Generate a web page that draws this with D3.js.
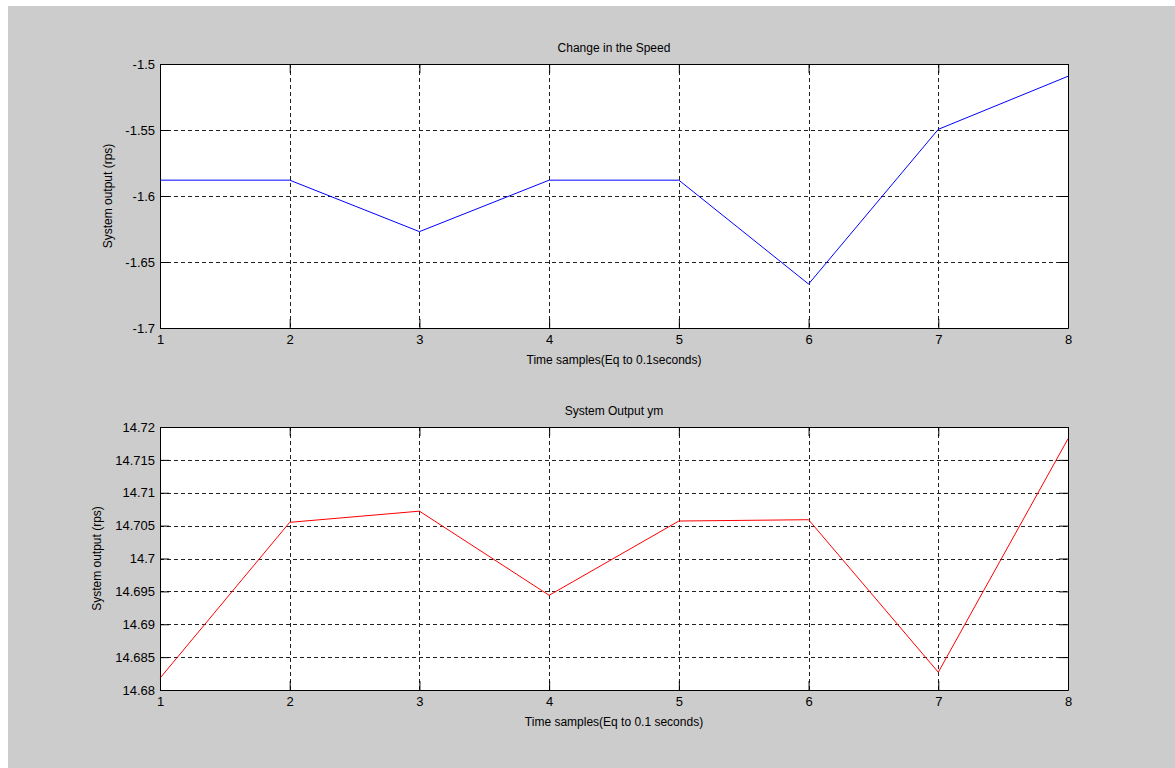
<!DOCTYPE html>
<html><head><meta charset="utf-8">
<script src="https://cdn.jsdelivr.net/npm/d3@7"></script>
<style>
html,body{margin:0;padding:0;background:#fff;}
svg{display:block;}
text{font-family:"Liberation Sans",Arial,Helvetica,sans-serif;fill:#000;}
</style></head>
<body>
<script>
// Data
const samples = [1, 2, 3, 4, 5, 6, 7, 8];
const speedChange = [-1.588, -1.588, -1.627, -1.588, -1.588, -1.6667, -1.5495, -1.5093];
const systemOutput = [14.6818, 14.7055, 14.7072, 14.6944, 14.7057, 14.7059, 14.6827, 14.7182];
const xTicks = [1, 2, 3, 4, 5, 6, 7, 8];
const yTicksTop = [-1.7, -1.65, -1.6, -1.55, -1.5];
const yTicksBottom = [14.68, 14.685, 14.69, 14.695, 14.7, 14.705, 14.71, 14.715, 14.72];
const titles = ["Change in the Speed", "System Output ym"];
const xLabels = ["Time samples(Eq to 0.1seconds)", "Time samples(Eq to 0.1 seconds)"];
const yLabel = "System output (rps)";

const W = 1175, H = 768;
const svg = d3.select("body").append("svg").attr("width", W).attr("height", H);
svg.append("rect").attr("x", 8).attr("y", 6).attr("width", W - 8).attr("height", H - 6).attr("fill", "#cccccc");

const left = 160, right = 1068;

function panel(cfg) {
  const {top, bottom, domain, yTicks, values, color, title, xLabel, yLabelX, fmt} = cfg;
  const x = d3.scaleLinear().domain([1, 8]).range([left, right]);
  const y = d3.scaleLinear().domain(domain).range([bottom, top]);
  const g = svg.append("g");
  g.append("rect").attr("x", left).attr("y", top).attr("width", right - left).attr("height", bottom - top).attr("fill", "#fff");

  // grid
  g.selectAll(".gx").data(xTicks.slice(1, -1)).enter().append("line")
    .attr("x1", d => Math.round(x(d)) + 0.5).attr("x2", d => Math.round(x(d)) + 0.5)
    .attr("y1", top).attr("y2", bottom)
    .attr("stroke", "#222").attr("stroke-width", 1).attr("stroke-dasharray", "4,3");
  g.selectAll(".gy").data(yTicks.slice(1, -1)).enter().append("line")
    .attr("y1", d => Math.round(y(d)) + 0.5).attr("y2", d => Math.round(y(d)) + 0.5)
    .attr("x1", left).attr("x2", right)
    .attr("stroke", "#222").attr("stroke-width", 1).attr("stroke-dasharray", "4,3");

  // data line
  const line = d3.line().x((d, i) => x(samples[i])).y(d => y(d));
  g.append("path").datum(values).attr("d", line).attr("fill", "none")
    .attr("stroke", color).attr("stroke-width", 1);

  // axes with inward ticks
  const tl = 9;
  const axB = d3.axisBottom(x).tickValues(xTicks).tickSizeInner(-tl).tickSizeOuter(0).tickPadding(tl + 4).tickFormat(d3.format("d"));
  const axT = d3.axisTop(x).tickValues(xTicks).tickSizeInner(-tl).tickSizeOuter(0).tickFormat("");
  const axL = d3.axisLeft(y).tickValues(yTicks).tickSizeInner(-tl).tickSizeOuter(0).tickPadding(5).tickFormat(fmt);
  const axR = d3.axisRight(y).tickValues(yTicks).tickSizeInner(-tl).tickSizeOuter(0).tickFormat("");
  const styleAx = sel => {
    sel.selectAll("path").attr("stroke", "#000");
    sel.selectAll("line").attr("stroke", "#000");
    sel.selectAll("text").attr("font-size", 13).attr("font-family", "Liberation Sans, Arial, sans-serif").attr("fill", "#000");
  };
  g.append("g").attr("transform", `translate(0,${bottom})`).call(axB).call(styleAx);
  g.append("g").attr("transform", `translate(0,${top})`).call(axT).call(styleAx);
  g.append("g").attr("transform", `translate(${left},0)`).call(axL).call(styleAx);
  g.append("g").attr("transform", `translate(${right},0)`).call(axR).call(styleAx);
  // x tick labels: start right below axis, undo the inward tick padding shift
  g.selectAll(".tick text").filter(function(){return this.getAttribute("y") !== null && +this.getAttribute("y") > 0;})
    .attr("y", 7).attr("dy", "0.71em");
  g.selectAll(".domain").attr("stroke-width", 1);

  g.append("text").attr("x", (left + right) / 2).attr("y", top - 12).attr("text-anchor", "middle")
    .attr("font-size", 12).text(title);
  g.append("text").attr("x", (left + right) / 2).attr("y", bottom + 36).attr("text-anchor", "middle")
    .attr("font-size", 12).text(xLabel);
  g.append("text").attr("transform", `translate(${yLabelX},${(top + bottom) / 2}) rotate(-90)`)
    .attr("text-anchor", "middle").attr("font-size", 12).text(yLabel);
}

panel({top: 64, bottom: 328, domain: [-1.7, -1.5], yTicks: yTicksTop, values: speedChange, color: "#0000ff",
  title: titles[0], xLabel: xLabels[0], yLabelX: 112, fmt: d => String(+d.toFixed(3))});
panel({top: 427, bottom: 690, domain: [14.68, 14.72], yTicks: yTicksBottom, values: systemOutput, color: "#ff0000",
  title: titles[1], xLabel: xLabels[1], yLabelX: 101, fmt: d => String(+d.toFixed(3))});
</script>
</body></html>
